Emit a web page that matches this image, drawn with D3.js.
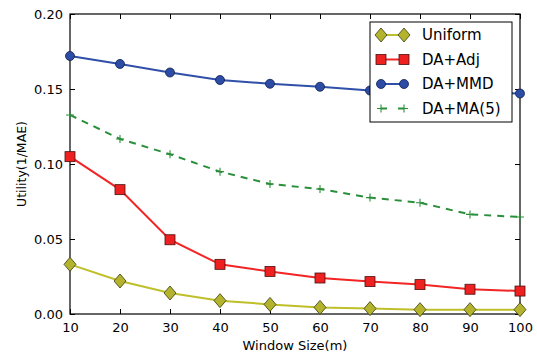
<!DOCTYPE html>
<html>
<head>
<meta charset="utf-8">
<script src="https://cdn.jsdelivr.net/npm/d3@7"></script>
<style>
  body { margin: 0; background: #fff; }
  text { font-family: "DejaVu Sans", sans-serif; fill: #000; }
</style>
</head>
<body>
<div id="chart"></div>
<script>
// data
const windowSizes = [10, 20, 30, 40, 50, 60, 70, 80, 90, 100];
const uniform = [0.0331, 0.022, 0.014, 0.0089, 0.0064, 0.0044, 0.0036, 0.0029, 0.0029, 0.0029];
const daAdj = [0.1049, 0.0829, 0.0495, 0.0331, 0.0284, 0.024, 0.0216, 0.0196, 0.0165, 0.0153];
const daMmd = [0.172, 0.1667, 0.161, 0.156, 0.1535, 0.1515, 0.149, 0.1482, 0.1475, 0.147];
const daMa5 = [0.1327, 0.1167, 0.1065, 0.0949, 0.0867, 0.0833, 0.0776, 0.0742, 0.0664, 0.0647];
const xTicks = [10, 20, 30, 40, 50, 60, 70, 80, 90, 100];
const yTicks = [0, 0.05, 0.1, 0.15, 0.2];

const series = [
  { name: "Uniform", values: uniform, line: "#bfbf2a", fill: "#b3b32e", marker: "diamond", dash: null },
  { name: "DA+Adj", values: daAdj, line: "#f22424", fill: "#ee2020", marker: "square", dash: null },
  { name: "DA+MMD", values: daMmd, line: "#2f4fa8", fill: "#2c4ca6", marker: "circle", dash: null },
  { name: "DA+MA(5)", values: daMa5, line: "#2a8f3a", fill: "#2a8f3a", marker: "plus", dash: "7,6" }
];

const W = 537, H = 353;
const margin = { top: 14, right: 17, bottom: 39, left: 70 };
const width = W - margin.left - margin.right;
const height = H - margin.top - margin.bottom;

const svg = d3.select("#chart").append("svg")
  .attr("width", W).attr("height", H);

const g = svg.append("g")
  .attr("transform", `translate(${margin.left},${margin.top})`);

const x = d3.scaleLinear().domain([10, 100]).range([0, width]);
const y = d3.scaleLinear().domain([0, 0.2]).range([height, 0]);

// axes, ticks pointing inward on all four sides
const fmtY = d3.format(".2f");
const bottomAxis = g.append("g").attr("transform", `translate(0,${height})`)
  .call(d3.axisBottom(x).tickValues(xTicks).tickSize(-5).tickPadding(8).tickFormat(d3.format("d")));
const topAxis = g.append("g")
  .call(d3.axisTop(x).tickValues(xTicks).tickSize(-5).tickFormat(""));
const leftAxis = g.append("g")
  .call(d3.axisLeft(y).tickValues(yTicks).tickSize(-5).tickPadding(7).tickFormat(fmtY));
const rightAxis = g.append("g").attr("transform", `translate(${width},0)`)
  .call(d3.axisRight(y).tickValues(yTicks).tickSize(-5).tickFormat(""));

[bottomAxis, topAxis, leftAxis, rightAxis].forEach(a => {
  a.select(".domain").remove();
  a.selectAll(".tick line").attr("stroke", "#000");
  a.selectAll("text").style("font-size", "13px");
});
bottomAxis.selectAll("text").attr("dy", "0.75em");

g.append("rect")
  .attr("width", width).attr("height", height)
  .attr("fill", "none").attr("stroke", "#000").attr("stroke-width", 1.2);

// lines
const lineGen = d3.line().x((d, i) => x(windowSizes[i])).y(d => y(d));

function drawMarker(sel, type, fill, stroke) {
  if (type === "diamond") {
    sel.append("path").attr("d", "M0,-7L6,0L0,7L-6,0Z")
      .attr("fill", fill).attr("stroke", "#3a3a10").attr("stroke-width", 0.8);
  } else if (type === "square") {
    sel.append("rect").attr("x", -5).attr("y", -5).attr("width", 10).attr("height", 10)
      .attr("fill", fill).attr("stroke", "#4a1010").attr("stroke-width", 0.8);
  } else if (type === "circle") {
    sel.append("circle").attr("r", 4.5)
      .attr("fill", fill).attr("stroke", "#10204a").attr("stroke-width", 0.8);
  } else {
    sel.append("path").attr("d", "M-4,0H4M0,-4V4")
      .attr("stroke", stroke).attr("stroke-width", 1.1).attr("fill", "none");
  }
}

const plot = g.append("g");
series.forEach(s => {
  plot.append("path")
    .datum(s.values)
    .attr("d", lineGen)
    .attr("fill", "none")
    .attr("stroke", s.line)
    .attr("stroke-width", 2)
    .attr("stroke-dasharray", s.dash);
  s.values.forEach((v, i) => {
    const m = plot.append("g").attr("transform", `translate(${x(windowSizes[i])},${y(v)})`);
    drawMarker(m, s.marker, s.fill, s.line);
  });
});

// legend
const legend = g.append("g").attr("transform", `translate(${300},${8})`);
legend.append("rect")
  .attr("width", 142).attr("height", 100)
  .attr("fill", "#fff").attr("stroke", "#000").attr("stroke-width", 1);
series.forEach((s, i) => {
  const ly = 13 + i * 24.5;
  const row = legend.append("g").attr("transform", `translate(0,${ly})`);
  row.append("line").attr("x1", 11).attr("x2", 34).attr("y1", 0).attr("y2", 0)
    .attr("stroke", s.line).attr("stroke-width", 2)
    .attr("stroke-dasharray", s.marker === "plus" ? "6,11,6" : null);
  [11, 34].forEach(px => {
    drawMarker(row.append("g").attr("transform", `translate(${px},0)`), s.marker, s.fill, s.line);
  });
  row.append("text").attr("x", 52).attr("y", 0).attr("dy", "0.36em")
    .style("font-size", "15px").text(s.name);
});

// axis labels
svg.append("text")
  .attr("x", margin.left + width / 2).attr("y", 350)
  .attr("text-anchor", "middle").style("font-size", "13px")
  .text("Window Size(m)");
svg.append("text")
  .attr("transform", `translate(26,${margin.top + height / 2}) rotate(-90)`)
  .attr("text-anchor", "middle").style("font-size", "12.5px")
  .text("Utility(1/MAE)");
</script>
</body>
</html>
